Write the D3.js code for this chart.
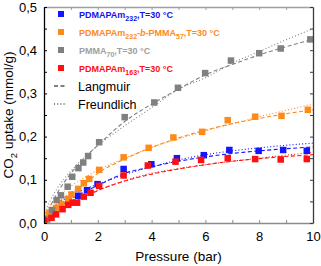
<!DOCTYPE html>
<html>
<head>
<meta charset="utf-8">
<script src="https://cdn.jsdelivr.net/npm/d3@7"></script>
<style>
  body { margin: 0; background: #fff; }
  svg { display: block; font-family: "Liberation Sans", Arial, sans-serif; }
</style>
</head>
<body>
<svg id="chart" width="321" height="266"></svg>
<script>
///////////////////
/// CHART DATA  ///
///////////////////

// measured points [pressure (bar), uptake (mmol/g)]
const blueP   = [0.38, 0.9, 1.27, 1.6, 1.99, 2.96, 3.99, 4.94, 5.94, 6.89, 7.98, 8.89, 9.77];
const blueU   = [0.022, 0.051, 0.063, 0.076, 0.09, 0.125, 0.136, 0.15, 0.157, 0.169, 0.167, 0.169, 0.167];
const orangeP = [0.19, 0.45, 0.65, 0.9, 1.02, 1.27, 1.48, 1.68, 2.05, 2.96, 3.89, 4.81, 5.88, 6.83, 7.85, 8.83, 9.81];
const orangeU = [0.022, 0.035, 0.044, 0.055, 0.066, 0.079, 0.092, 0.102, 0.123, 0.152, 0.174, 0.198, 0.211, 0.238, 0.246, 0.248, 0.262];
const grayP   = [0.12, 0.3, 0.47, 0.63, 0.88, 1.05, 1.28, 1.46, 1.64, 2.05, 3.0, 4.1, 4.98, 5.99, 6.95, 8.0, 8.8, 9.9];
const grayU   = [0.008, 0.03, 0.053, 0.064, 0.084, 0.107, 0.127, 0.14, 0.155, 0.187, 0.245, 0.279, 0.313, 0.347, 0.376, 0.393, 0.404, 0.425];
const redP    = [0.01, 0.28, 0.45, 0.69, 0.9, 1.06, 1.23, 1.48, 1.73, 2.05, 2.96, 3.86, 4.89, 5.84, 6.83, 7.85, 8.8, 9.77];
const redU    = [0.005, 0.012, 0.02, 0.032, 0.042, 0.047, 0.047, 0.061, 0.07, 0.086, 0.11, 0.133, 0.142, 0.146, 0.15, 0.148, 0.147, 0.148];

// fitted curves
const fitP = [0, 0.1, 0.25, 0.5, 1, 1.5, 2, 3, 4, 5, 6, 7, 8, 9, 10];
const blueLang    = [0, 0.008, 0.018, 0.033, 0.055, 0.072, 0.087, 0.115, 0.13, 0.143, 0.153, 0.161, 0.167, 0.172, 0.176];
const blueFreu    = [0, 0.02, 0.032, 0.045, 0.063, 0.078, 0.09, 0.112, 0.13, 0.146, 0.158, 0.167, 0.174, 0.18, 0.185];
const orangeLang  = [0, 0.011, 0.025, 0.045, 0.07, 0.09, 0.115, 0.148, 0.175, 0.197, 0.215, 0.23, 0.242, 0.253, 0.262];
const orangeFreu  = [0, 0.026, 0.042, 0.06, 0.085, 0.105, 0.122, 0.15, 0.175, 0.195, 0.213, 0.23, 0.246, 0.261, 0.275];
const grayLang    = [0, 0.017, 0.04, 0.07, 0.115, 0.15, 0.18, 0.235, 0.275, 0.31, 0.343, 0.367, 0.389, 0.408, 0.425];
const grayFreu    = [0, 0.032, 0.054, 0.081, 0.12, 0.152, 0.179, 0.225, 0.267, 0.31, 0.336, 0.37, 0.397, 0.424, 0.45];
const redLang     = [0, 0.006, 0.014, 0.027, 0.045, 0.06, 0.075, 0.097, 0.113, 0.125, 0.135, 0.143, 0.149, 0.154, 0.158];
const redFreu     = [0, 0.015, 0.025, 0.037, 0.052, 0.065, 0.076, 0.098, 0.115, 0.126, 0.135, 0.143, 0.15, 0.157, 0.163];

const xTicks = [0, 2, 4, 6, 8, 10];
const yTicks = [0, 0.1, 0.2, 0.3, 0.4, 0.5];

const series = [
    {color: '#1414ff', text: '#1414ee', P: blueP, U: blueU, lang: blueLang, freu: blueFreu,
     label: [['PDMAPAm'], ['232', 'sub'], [',T=30 °C']]},
    {color: '#ff8a1c', text: '#ff8a1c', P: orangeP, U: orangeU, lang: orangeLang, freu: orangeFreu,
     label: [['PDMAPAm'], ['232', 'sub'], ['-'], ['b', 'it'], ['-PMMA'], ['57', 'sub'], [',T=30 °C']]},
    {color: '#808080', text: '#a0a0a0', P: grayP, U: grayU, lang: grayLang, freu: grayFreu,
     label: [['PMMA'], ['70', 'sub'], [',T=30 °C']]},
    {color: '#ff1010', text: '#ff1010', P: redP, U: redU, lang: redLang, freu: redFreu,
     label: [['PDMAPAm'], ['163', 'sub'], [',T=30 °C']]}
];

//////////////////
/// SETUP      ///
//////////////////

const svg = d3.select('#chart');
const margin = {left: 44, top: 7, right: 8, bottom: 43};
const width = 321 - margin.left - margin.right;
const height = 266 - margin.top - margin.bottom;

const xScale = d3.scaleLinear().domain([0, 10]).range([margin.left, margin.left + width]);
const yScale = d3.scaleLinear().domain([0, 0.5]).range([margin.top + height, margin.top]);
const fmt = d => d3.format('.1f')(d).replace('.', ',');

// clip so the fits stay inside the frame
svg.append('clipPath').attr('id', 'clip')
    .append('rect')
    .attr('x', margin.left).attr('y', margin.top)
    .attr('width', width).attr('height', height);

// curves
const line = d3.line()
    .x(d => xScale(d[0]))
    .y(d => yScale(d[1]))
    .curve(d3.curveMonotoneX);

const plot = svg.append('g').attr('clip-path', 'url(#clip)');

series.forEach(function(s) {
    plot.append('path')
        .datum(fitP.map((p, i) => [p, s.freu[i]]))
        .attr('d', line)
        .attr('fill', 'none')
        .attr('stroke', s.color)
        .attr('stroke-width', 1.1)
        .attr('stroke-dasharray', '1,2.2');
    plot.append('path')
        .datum(fitP.map((p, i) => [p, s.lang[i]]))
        .attr('d', line)
        .attr('fill', 'none')
        .attr('stroke', s.color)
        .attr('stroke-width', 1.1)
        .attr('stroke-dasharray', '4,2.5');
});

// markers
const ms = 6.5;
series.forEach(function(s) {
    plot.append('g').selectAll('rect')
        .data(s.P.map((p, i) => [p, s.U[i]]))
        .enter().append('rect')
        .attr('x', d => xScale(d[0]) - ms / 2)
        .attr('y', d => yScale(d[1]) - ms / 2)
        .attr('width', ms)
        .attr('height', ms)
        .attr('fill', s.color);
});

//////////////////
/// AXES       ///
//////////////////

const xMinor = d3.range(0, 11, 1);
const yMinor = d3.range(0, 0.51, 0.05);

function styleAxis(g, color) {
    g.select('.domain').attr('stroke', color).attr('stroke-width', 1.3);
    g.selectAll('.tick line').attr('stroke', color);
    g.selectAll('.tick text')
        .attr('fill', '#000')
        .style('font-size', '13px')
        .style('font-family', '"Liberation Sans", Arial, sans-serif');
}

// bottom
const xAxis = svg.append('g')
    .attr('transform', 'translate(0,' + (margin.top + height) + ')')
    .call(d3.axisBottom(xScale).tickValues(xMinor).tickSize(-3).tickSizeOuter(0)
        .tickFormat(d => xTicks.includes(d) ? d : ''));
xAxis.selectAll('.tick text').attr('y', 9);
styleAxis(xAxis, '#8c8c8c');

// top
const topAxis = svg.append('g')
    .attr('transform', 'translate(0,' + margin.top + ')')
    .call(d3.axisTop(xScale).tickValues(xMinor).tickSize(-3).tickSizeOuter(0).tickFormat(''));
styleAxis(topAxis, '#a0a0a0');

// left
const yAxis = svg.append('g')
    .attr('transform', 'translate(' + margin.left + ',0)')
    .call(d3.axisLeft(yScale).tickValues(yMinor).tickSize(-3).tickSizeOuter(0)
        .tickFormat(d => yTicks.some(t => Math.abs(t - d) < 1e-9) ? fmt(d) : ''));
yAxis.selectAll('.tick text').attr('x', -7);
styleAxis(yAxis, '#000');

// right
const rightAxis = svg.append('g')
    .attr('transform', 'translate(' + (margin.left + width) + ',0)')
    .call(d3.axisRight(yScale).tickValues(yMinor).tickSize(-3).tickSizeOuter(0).tickFormat(''));
styleAxis(rightAxis, '#3a3a3a');

// axis titles
svg.append('text')
    .attr('x', margin.left + width / 2)
    .attr('y', 261)
    .attr('text-anchor', 'middle')
    .style('font-size', '13.5px')
    .text('Pressure (bar)');

const yTitle = svg.append('text')
    .attr('transform', 'translate(13,' + (margin.top + height / 2) + ') rotate(-90)')
    .attr('text-anchor', 'middle')
    .style('font-size', '13.5px');
yTitle.append('tspan').text('CO');
yTitle.append('tspan').text('2').attr('dy', 4).style('font-size', '9.5px');
yTitle.append('tspan').text(' uptake (mmol/g)').attr('dy', -4);

//////////////////
/// LEGEND     ///
//////////////////

const legend = svg.append('g');
const legendY = [14, 32, 50, 68];

series.forEach(function(s, i) {
    legend.append('rect')
        .attr('x', 58).attr('y', legendY[i] - 3)
        .attr('width', 6).attr('height', 6)
        .attr('fill', s.color);
    const t = legend.append('text')
        .attr('x', 79).attr('y', legendY[i] + 3.5)
        .attr('fill', s.text)
        .style('font-size', '9px')
        .style('font-weight', 'bold');
    let shifted = false;
    s.label.forEach(function(part) {
        const span = t.append('tspan').text(part[0]);
        if (part[1] === 'sub') {
            span.attr('dy', shifted ? 0 : 3).style('font-size', '7px');
            shifted = true;
        } else {
            if (shifted) { span.attr('dy', -3); shifted = false; }
            if (part[1] === 'it') span.style('font-style', 'italic');
        }
    });
});

const fitLegend = [['Langmuir', '4,2.5', 86], ['Freundlich', '1,2.2', 104]];
fitLegend.forEach(function(f) {
    legend.append('line')
        .attr('x1', 54).attr('x2', 67)
        .attr('y1', f[2]).attr('y2', f[2])
        .attr('stroke', '#000')
        .attr('stroke-width', 1.1)
        .attr('stroke-dasharray', f[1]);
    legend.append('text')
        .attr('x', 78).attr('y', f[2] + 4.5)
        .style('font-size', '12.5px')
        .text(f[0]);
});
</script>
</body>
</html>
